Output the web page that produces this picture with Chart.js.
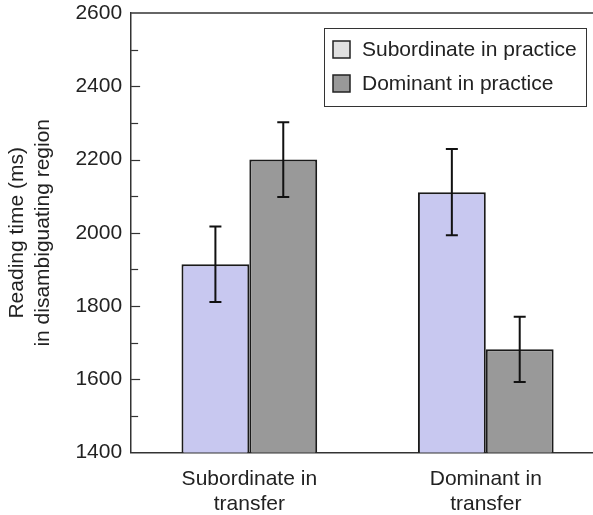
<!DOCTYPE html>
<html>
<head>
<meta charset="utf-8">
<script src="https://cdn.jsdelivr.net/npm/chart.js@4/dist/chart.umd.min.js"></script>
<style>
  html, body { margin: 0; padding: 0; background: #fff; overflow: hidden; width: 593px; height: 515px; }
  #wrap { position: absolute; left: 0; top: 0; width: 604px; height: 515px; }
</style>
</head>
<body>
<div id="wrap"><canvas id="c" width="604" height="515"></canvas></div>
<script>
// ---- data ----
const categories = [["Subordinate in", "transfer"], ["Dominant in", "transfer"]];
const seriesNames = ["Subordinate in practice", "Dominant in practice"];
const subordinateValues = [1914, 2111];
const dominantValues = [2200, 1682];
const subordinateErrors = [103, 118];
const dominantErrors = [102, 89];
const yMin = 1400, yMax = 2600, yMajorStep = 200, yMinorStep = 100;

// ---- styles ----
const FONT = "'Liberation Sans', Arial, Helvetica, sans-serif";
const TEXT = "#222";
const AXIS = "#333";
const barColors = ["#c8c8f0", "#999999"];
const legendPatchColors = ["#e0e0e0", "#999999"];
const errorsBySeries = [subordinateErrors, dominantErrors];

const extrasPlugin = {
  id: "extras",
  afterDatasetsDraw(chart) {
    const ctx = chart.ctx;
    const area = chart.chartArea;
    const y = chart.scales.y;
    ctx.save();
    // error bars
    chart.data.datasets.forEach((ds, di) => {
      const meta = chart.getDatasetMeta(di);
      meta.data.forEach((el, i) => {
        const v = ds.data[i], e = errorsBySeries[di][i];
        const yt = y.getPixelForValue(v + e), yb = y.getPixelForValue(v - e);
        ctx.strokeStyle = "#111";
        ctx.lineWidth = 2;
        ctx.beginPath();
        ctx.moveTo(el.x, yt); ctx.lineTo(el.x, yb);
        ctx.moveTo(el.x - 6, yt); ctx.lineTo(el.x + 6, yt);
        ctx.moveTo(el.x - 6, yb); ctx.lineTo(el.x + 6, yb);
        ctx.stroke();
      });
    });
    // top frame line
    ctx.strokeStyle = AXIS;
    ctx.lineWidth = 1.5;
    ctx.beginPath();
    ctx.moveTo(area.left, area.top); ctx.lineTo(area.right, area.top);
    ctx.stroke();
    // inward y ticks
    ctx.lineWidth = 1.2;
    for (let v = yMin + yMinorStep; v < yMax; v += yMinorStep) {
      const py = Math.round(y.getPixelForValue(v)) + 0.5;
      const len = (v - yMin) % yMajorStep === 0 ? 9 : 7;
      ctx.beginPath();
      ctx.moveTo(area.left, py); ctx.lineTo(area.left + len, py);
      ctx.stroke();
    }
    // legend box
    const bx = 324, by = 28, bw = 262, bh = 78;
    ctx.fillStyle = "#fff";
    ctx.fillRect(bx, by, bw, bh);
    ctx.strokeStyle = AXIS;
    ctx.lineWidth = 1;
    ctx.strokeRect(bx + 0.5, by + 0.5, bw, bh);
    ctx.font = "21px " + FONT;
    ctx.textBaseline = "middle";
    ctx.textAlign = "left";
    seriesNames.forEach((name, i) => {
      const cy = 49 + i * 34;
      ctx.fillStyle = legendPatchColors[i];
      ctx.fillRect(333, cy - 8, 17, 17);
      ctx.strokeStyle = "#222";
      ctx.lineWidth = 1.5;
      ctx.strokeRect(333, cy - 8, 17, 17);
      ctx.fillStyle = TEXT;
      ctx.fillText(name, 362, cy + 1);
    });
    ctx.restore();
  }
};

new Chart(document.getElementById("c"), {
  type: "bar",
  data: {
    labels: categories,
    datasets: [
      { label: seriesNames[0], data: subordinateValues, backgroundColor: barColors[0],
        borderColor: "#1a1a1a", borderWidth: 2, borderSkipped: false },
      { label: seriesNames[1], data: dominantValues, backgroundColor: barColors[1],
        borderColor: "#1a1a1a", borderWidth: 2, borderSkipped: false }
    ]
  },
  options: {
    responsive: false,
    animation: false,
    devicePixelRatio: 1,
    layout: { padding: { left: 0, right: 0, top: 13, bottom: -16 } },
    datasets: { bar: { barPercentage: 1.0, categoryPercentage: 0.574 } },
    plugins: { legend: { display: false }, tooltip: { enabled: false } },
    scales: {
      x: {
        grid: { display: false, drawTicks: false },
        border: { display: true, color: AXIS, width: 1.5 },
        ticks: { color: TEXT, font: { family: FONT, size: 21, lineHeight: 1.2 }, padding: 14, maxRotation: 0 }
      },
      y: {
        min: yMin, max: yMax,
        afterFit: (s) => { s.paddingTop = 0; },
        grid: { display: false, drawTicks: false },
        border: { display: true, color: AXIS, width: 1.5 },
        ticks: { stepSize: yMajorStep, color: TEXT, font: { family: FONT, size: 21 }, padding: 9,
                 callback: (v) => String(v) },
        title: {
          display: true,
          text: ["Reading time (ms)", "in disambiguating region"],
          color: TEXT,
          font: { family: FONT, size: 21, lineHeight: 1.2 },
          padding: { top: 5, bottom: 11 }
        }
      }
    }
  },
  plugins: [extrasPlugin]
});
</script>
</body>
</html>
